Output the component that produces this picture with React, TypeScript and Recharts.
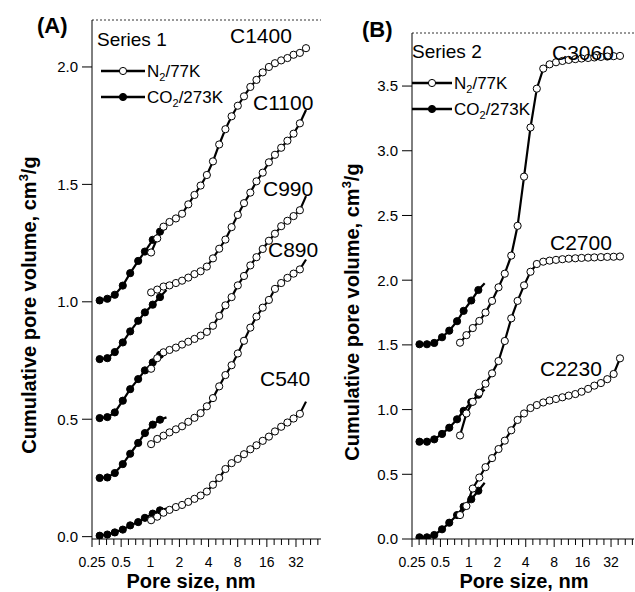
import React from "react"
import { LineChart, Line, XAxis, YAxis, ReferenceLine, Legend } from "recharts"

const FONT = "'Liberation Sans', Arial, Helvetica, sans-serif"
const INK = "#000"

// pore width (nm) of the CO2/273K points, same for every sample
const co2Size = [0.3, 0.36, 0.43, 0.52, 0.62, 0.75, 0.88, 1.06, 1.26, 1.47]
// pore width (nm) of the N2/77K points
const n2SizeA = [1.02, 1.18, 1.37, 1.58, 1.84, 2.13, 2.47, 2.86, 3.31, 3.84, 4.44, 5.15, 5.97, 6.92, 8.02, 9.29, 10.8, 12.5, 14.5, 16.8, 19.4, 22.5, 26.1, 30.2, 35.1, 40.6]
const n2SizeB = [0.806, 0.942, 1.1, 1.29, 1.5, 1.76, 2.06, 2.4, 2.81, 3.28, 3.84, 4.49, 5.24, 6.13, 7.16, 8.37, 9.78, 11.4, 13.4, 15.6, 18.3, 21.3, 25.0, 29.2, 34.1, 39.8]

// Series 1 - cumulative pore volume, cm3/g (curves are stacked by the authors)
const c540Co2 = [0.004, 0.009, 0.018, 0.03, 0.048, 0.062, 0.08, 0.098, 0.112, 0.12]
const c890Co2 = [0.25, 0.252, 0.271, 0.309, 0.353, 0.399, 0.441, 0.477, 0.498, 0.508]
const c990Co2 = [0.505, 0.509, 0.529, 0.579, 0.628, 0.671, 0.708, 0.742, 0.774, 0.793]
const c1100Co2 = [0.756, 0.76, 0.786, 0.827, 0.874, 0.919, 0.955, 0.988, 1.02, 1.05]
const c1400Co2 = [1.006, 1.013, 1.03, 1.069, 1.122, 1.174, 1.214, 1.264, 1.299, 1.314]

const c540N2 = [0.07, 0.085, 0.102, 0.114, 0.126, 0.135, 0.148, 0.161, 0.175, 0.192, 0.221, 0.25, 0.288, 0.313, 0.331, 0.351, 0.372, 0.389, 0.408, 0.426, 0.448, 0.468, 0.486, 0.503, 0.523, 0.575]
const c890N2 = [0.394, 0.416, 0.43, 0.444, 0.457, 0.47, 0.489, 0.506, 0.526, 0.555, 0.59, 0.64, 0.688, 0.73, 0.78, 0.834, 0.89, 0.937, 0.975, 1.008, 1.055, 1.08, 1.102, 1.12, 1.138, 1.18]
const c990N2 = [0.715, 0.76, 0.785, 0.795, 0.805, 0.818, 0.83, 0.842, 0.856, 0.872, 0.898, 0.94, 0.985, 1.02, 1.07, 1.11, 1.155, 1.19, 1.225, 1.26, 1.29, 1.322, 1.345, 1.365, 1.39, 1.45]
const c1100N2 = [1.04, 1.052, 1.065, 1.07, 1.08, 1.09, 1.103, 1.118, 1.13, 1.15, 1.185, 1.226, 1.265, 1.318, 1.37, 1.42, 1.465, 1.513, 1.55, 1.594, 1.626, 1.656, 1.686, 1.716, 1.76, 1.817]
const c1400N2 = [1.21, 1.27, 1.32, 1.34, 1.355, 1.375, 1.415, 1.455, 1.495, 1.54, 1.598, 1.67, 1.735, 1.79, 1.835, 1.875, 1.915, 1.945, 1.977, 2.0, 2.016, 2.028, 2.038, 2.052, 2.06, 2.08]

// Series 2
const c2230Co2 = [0.013, 0.013, 0.031, 0.075, 0.126, 0.185, 0.25, 0.307, 0.373, 0.435]
const c2700Co2 = [0.752, 0.752, 0.77, 0.812, 0.86, 0.925, 0.99, 1.058, 1.115, 1.155]
const c3060Co2 = [1.505, 1.505, 1.515, 1.559, 1.61, 1.683, 1.763, 1.843, 1.924, 1.976]

const c2230N2 = [0.185, 0.255, 0.39, 0.475, 0.555, 0.625, 0.695, 0.76, 0.84, 0.92, 0.97, 1.012, 1.035, 1.055, 1.07, 1.082, 1.095, 1.108, 1.12, 1.138, 1.16, 1.185, 1.205, 1.235, 1.275, 1.396]
const c2700N2 = [0.8, 0.97, 1.06, 1.13, 1.2, 1.28, 1.375, 1.53, 1.705, 1.84, 1.96, 2.065, 2.125, 2.143, 2.151, 2.157, 2.162, 2.166, 2.169, 2.172, 2.174, 2.176, 2.178, 2.18, 2.181, 2.183]
const c3060N2 = [1.517, 1.575, 1.63, 1.685, 1.75, 1.84, 1.945, 2.05, 2.19, 2.42, 2.8, 3.18, 3.48, 3.635, 3.668, 3.684, 3.694, 3.702, 3.708, 3.713, 3.717, 3.721, 3.725, 3.728, 3.731, 3.733]

// axis ticks
const majorTicks = [0.25, 0.5, 1, 2, 4, 8, 16, 32]
const yTicksA = [0, 0.5, 1, 1.5, 2]
const yTicksB = [0, 0.5, 1, 1.5, 2, 2.5, 3, 3.5]

type Series = { name: string; size: number[]; values: number[]; gas: "n2" | "co2"; openEnd?: boolean }

const seriesA: Series[] = [
  { name: "C540 CO2", size: co2Size, values: c540Co2, gas: "co2", openEnd: true },
  { name: "C890 CO2", size: co2Size, values: c890Co2, gas: "co2", openEnd: true },
  { name: "C990 CO2", size: co2Size, values: c990Co2, gas: "co2", openEnd: true },
  { name: "C1100 CO2", size: co2Size, values: c1100Co2, gas: "co2", openEnd: true },
  { name: "C1400 CO2", size: co2Size, values: c1400Co2, gas: "co2", openEnd: true },
  { name: "C540 N2", size: n2SizeA, values: c540N2, gas: "n2", openEnd: true },
  { name: "C890 N2", size: n2SizeA, values: c890N2, gas: "n2", openEnd: true },
  { name: "C990 N2", size: n2SizeA, values: c990N2, gas: "n2", openEnd: true },
  { name: "C1100 N2", size: n2SizeA, values: c1100N2, gas: "n2", openEnd: true },
  { name: "C1400 N2", size: n2SizeA, values: c1400N2, gas: "n2" },
]

const seriesB: Series[] = [
  { name: "C2230 CO2", size: co2Size, values: c2230Co2, gas: "co2", openEnd: true },
  { name: "C2700 CO2", size: co2Size, values: c2700Co2, gas: "co2", openEnd: true },
  { name: "C3060 CO2", size: co2Size, values: c3060Co2, gas: "co2", openEnd: true },
  { name: "C2230 N2", size: n2SizeB, values: c2230N2, gas: "n2" },
  { name: "C2700 N2", size: n2SizeB, values: c2700N2, gas: "n2" },
  { name: "C3060 N2", size: n2SizeB, values: c3060N2, gas: "n2" },
]

// sample names written next to the curves
const tagsA = [
  { text: "C1400", x: 230, y: 43 },
  { text: "C1100", x: 253, y: 110 },
  { text: "C990", x: 263, y: 196 },
  { text: "C890", x: 268, y: 257 },
  { text: "C540", x: 260, y: 386 },
]
const tagsB = [
  { text: "C3060", x: 552, y: 60 },
  { text: "C2700", x: 550, y: 250 },
  { text: "C2230", x: 540, y: 376 },
]

// quarter-octave minor ticks between the labelled ones
function poreTicks(xMax: number) {
  return majorTicks
    .flatMap((t) => [t, t * Math.pow(2, 0.25), t * Math.pow(2, 0.5), t * Math.pow(2, 0.75)])
    .filter((t) => t <= xMax)
}

function PoreTick(props: any) {
  const { x, y, payload } = props
  const major = majorTicks.includes(payload.value)
  return (
    <g>
      <line x1={x} x2={x} y1={y} y2={y + (major ? 8 : 6)} stroke={INK} />
      {major && (
        <text x={x} y={y + 28} textAnchor="middle" fontSize={14} fontFamily={FONT} fill={INK}>
          {payload.value}
        </text>
      )}
    </g>
  )
}

const renderDot = (s: Series) => (props: any) => {
  const { cx, cy, index } = props
  if (s.openEnd && index === s.values.length - 1) return <g key={`${s.name}-${index}`} />
  return (
    <circle
      key={`${s.name}-${index}`}
      cx={cx}
      cy={cy}
      r={3.6}
      fill={s.gas === "n2" ? "#fff" : INK}
      stroke={INK}
      strokeWidth={1}
    />
  )
}

function LegendArt({ title, lineX0, lineX1, textX }: { title: string; lineX0: number; lineX1: number; textX: number }) {
  const mid = (lineX0 + lineX1) / 2
  return (
    <svg width={170} height={90} fontFamily={FONT} style={{ display: "block" }}>
      <text x={2} y={20} fontSize={19} fill={INK}>
        {title}
      </text>
      <line x1={lineX0} x2={lineX1} y1={45} y2={45} stroke={INK} strokeWidth={2.4} />
      <circle cx={mid} cy={45} r={3.6} fill="#fff" stroke={INK} />
      <text x={textX} y={51} fontSize={17} fill={INK}>
        N<tspan fontSize={11} dy={4}>2</tspan>
        <tspan dy={-4}>/77K</tspan>
      </text>
      <line x1={lineX0} x2={lineX1} y1={71} y2={71} stroke={INK} strokeWidth={2.4} />
      <circle cx={mid} cy={71} r={3.6} fill={INK} stroke={INK} />
      <text x={textX} y={77} fontSize={17} fill={INK}>
        CO<tspan fontSize={11} dy={4}>2</tspan>
        <tspan dy={-4}>/273K</tspan>
      </text>
    </svg>
  )
}

interface PanelProps {
  left: number
  width: number
  marginTop: number
  marginRight: number
  xMax: number
  yDomain: [number, number]
  yTicks: number[]
  series: Series[]
  legend: React.ReactNode
  legendLeft: number
  legendTop: number
}

function Panel({ left, width, marginTop, marginRight, xMax, yDomain, yTicks, series, legend, legendLeft, legendTop }: PanelProps) {
  return (
    <div style={{ position: "absolute", left, top: 0 }}>
      <LineChart width={width} height={592} margin={{ top: marginTop, right: marginRight, bottom: 13, left: 42 }}>
        <XAxis
          dataKey="x"
          type="number"
          scale="log"
          domain={[0.25, xMax]}
          allowDataOverflow
          ticks={poreTicks(xMax)}
          interval={0}
          tickLine={false}
          tickSize={0}
          tickMargin={0}
          tick={(p: any) => <PoreTick {...p} />}
          height={40}
          axisLine={{ stroke: INK }}
        />
        <YAxis
          yAxisId="v"
          type="number"
          domain={yDomain}
          allowDataOverflow
          ticks={yTicks}
          interval={0}
          width={50}
          tickSize={10}
          tickMargin={4}
          tickFormatter={(v: number) => v.toFixed(1)}
          tick={{ fontSize: 15, fill: INK, fontFamily: FONT }}
          axisLine={{ stroke: INK }}
          tickLine={{ stroke: INK }}
        />
        <YAxis
          yAxisId="frame"
          orientation="right"
          mirror
          type="number"
          domain={yDomain}
          allowDataOverflow
          ticks={yTicks}
          interval={0}
          width={0}
          tickSize={8}
          tickFormatter={() => ""}
          axisLine={{ stroke: INK }}
          tickLine={{ stroke: INK }}
        />
        <ReferenceLine yAxisId="v" y={yDomain[1]} stroke="#333" strokeDasharray="2 2" />
        <Legend
          verticalAlign="middle"
          align="center"
          layout="horizontal"
          content={() => legend}
          wrapperStyle={{ left: legendLeft, top: legendTop, width: 170, height: 90 }}
        />
        {series.map((s) => (
          <Line
            key={s.name}
            name={s.name}
            yAxisId="v"
            data={s.size.map((x, i) => ({ x, v: s.values[i] }))}
            dataKey="v"
            type="linear"
            stroke={INK}
            strokeWidth={2.2}
            dot={renderDot(s)}
            activeDot={false}
            legendType="none"
            isAnimationActive={false}
          />
        ))}
      </LineChart>
    </div>
  )
}

function YTitle({ x, y }: { x: number; y: number }) {
  return (
    <text transform={`translate(${x} ${y}) rotate(-90)`} textAnchor="middle" fontSize={20} fontWeight="bold" fill={INK}>
      Cumulative pore volume, cm<tspan fontSize={13} dy={-8}>3</tspan>
      <tspan dy={8}>/g</tspan>
    </text>
  )
}

export default function App() {
  return (
    <div style={{ position: "absolute", left: 0, top: 0, width: 635, height: 592, background: "#fff", overflow: "hidden" }}>
      <Panel
        left={0}
        width={330}
        marginTop={20}
        marginRight={9}
        xMax={58}
        yDomain={[-0.01, 2.2]}
        yTicks={yTicksA}
        series={seriesA}
        legend={<LegendArt title="Series 1" lineX0={6} lineX1={50} textX={52} />}
        legendLeft={95}
        legendTop={26}
      />
      <Panel
        left={320}
        width={315}
        marginTop={33}
        marginRight={1}
        xMax={56}
        yDomain={[0, 3.91]}
        yTicks={yTicksB}
        series={seriesB}
        legend={<LegendArt title="Series 2" lineX0={2} lineX1={42} textX={44} />}
        legendLeft={90}
        legendTop={38}
      />
      <svg width={635} height={592} fontFamily={FONT} style={{ position: "absolute", left: 0, top: 0, pointerEvents: "none" }}>
        <text x={37} y={33} fontSize={22} fontWeight="bold" fill={INK}>(A)</text>
        <text x={362} y={37} fontSize={22} fontWeight="bold" fill={INK}>(B)</text>
        <YTitle x={36} y={305} />
        <YTitle x={359} y={312} />
        <text x={191} y={588} textAnchor="middle" fontSize={20} fontWeight="bold" fill={INK}>Pore size, nm</text>
        <text x={524} y={588} textAnchor="middle" fontSize={20} fontWeight="bold" fill={INK}>Pore size, nm</text>
        {[...tagsA, ...tagsB].map((t) => (
          <text key={t.text} x={t.x} y={t.y} fontSize={21} fill={INK}>
            {t.text}
          </text>
        ))}
      </svg>
    </div>
  )
}
